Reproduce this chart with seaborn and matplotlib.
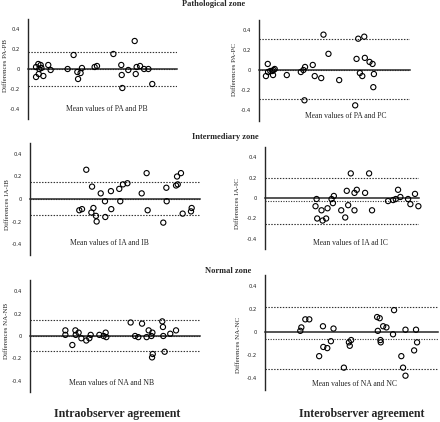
"""
Bland-Altman agreement plots for three zones (pathological / intermediary /
normal), intra- and interobserver. Values read off the reference figure.
"""

import matplotlib
matplotlib.use("Agg")
import matplotlib.pyplot as plt
import seaborn as sns

FIG_W, FIG_H = 440, 422
SERIF = "Liberation Serif"

# ---------------------------------------------------------------------------
# DATA — x = mean of the two readings (scaled 0..1), y = difference
# ---------------------------------------------------------------------------
PA_PB_MEAN = [0.054, 0.069, 0.085, 0.076, 0.09, 0.054, 0.072, 0.103, 0.136, 0.152,
              0.266, 0.306, 0.331, 0.336, 0.353, 0.362, 0.447, 0.463, 0.573, 0.626,
              0.629, 0.633, 0.673, 0.716, 0.723, 0.729, 0.752, 0.779, 0.808, 0.834]
PA_PB_DIFF = [0.02, 0.05, 0.04, 0.0, 0.01, -0.08, -0.05, -0.07, 0.04, -0.01,
              0.0, 0.14, -0.03, -0.10, -0.04, 0.01, 0.02, 0.03, 0.15, 0.04,
              -0.06, -0.19, -0.01, 0.28, -0.05, 0.02, 0.03, 0.0, 0.0, -0.15]
PA_PB_BIAS = 0.0
PA_PB_LIMITS = [0.17, -0.17]

PA_PC_MEAN = [0.046, 0.058, 0.060, 0.075, 0.088, 0.093, 0.097, 0.104, 0.184, 0.277,
              0.294, 0.305, 0.301, 0.356, 0.369, 0.412, 0.427, 0.460, 0.531, 0.637,
              0.646, 0.657, 0.668, 0.684, 0.697, 0.701, 0.732, 0.752, 0.761, 0.757]
PA_PC_DIFF = [-0.06, 0.06, -0.02, -0.01, -0.01, -0.05, 0.0, 0.01, -0.05, -0.02,
              0.0, 0.03, -0.30, 0.05, -0.06, -0.08, 0.35, 0.16, -0.10, -0.35,
              0.11, 0.31, -0.03, -0.06, 0.33, 0.12, 0.08, 0.06, -0.04, -0.17]
PA_PC_BIAS = 0.0
PA_PC_LIMITS = [0.31, -0.29]

IA_IB_MEAN = [0.290, 0.306, 0.331, 0.365, 0.361, 0.373, 0.388, 0.392, 0.416, 0.441,
              0.443, 0.476, 0.478, 0.525, 0.531, 0.547, 0.573, 0.657, 0.686, 0.692,
              0.784, 0.802, 0.804, 0.859, 0.865, 0.869, 0.888, 0.898, 0.947, 0.951]
IA_IB_DIFF = [-0.10, -0.09, 0.26, 0.11, -0.12, -0.08, -0.15, -0.20, 0.05, -0.02,
              -0.16, 0.07, -0.09, 0.09, -0.02, 0.13, 0.14, 0.05, 0.23, -0.10,
              -0.21, 0.10, -0.02, 0.12, 0.20, 0.13, 0.23, -0.13, -0.11, -0.08]
IA_IB_BIAS = 0.0
IA_IB_LIMITS = [0.15, -0.14]

IA_IC_MEAN = [0.328, 0.335, 0.339, 0.367, 0.374, 0.397, 0.406, 0.432, 0.441, 0.447,
              0.495, 0.521, 0.531, 0.540, 0.557, 0.581, 0.581, 0.596, 0.650, 0.676,
              0.695, 0.799, 0.832, 0.849, 0.864, 0.879, 0.929, 0.944, 0.974, 0.996]
IA_IC_DIFF = [-0.08, -0.01, -0.20, -0.12, -0.22, -0.20, -0.10, -0.01, -0.05, 0.02,
              -0.12, -0.19, 0.07, -0.07, 0.24, 0.05, -0.12, 0.08, 0.05, 0.24,
              -0.12, -0.03, -0.02, -0.01, 0.08, 0.01, -0.01, -0.06, 0.04, -0.08]
IA_IC_BIAS = -0.026
IA_IC_LIMITS = [0.195, -0.25]

NA_NB_MEAN = [0.208, 0.208, 0.249, 0.267, 0.269, 0.286, 0.302, 0.331, 0.349, 0.357,
              0.408, 0.433, 0.445, 0.449, 0.592, 0.618, 0.637, 0.659, 0.686, 0.698,
              0.714, 0.720, 0.722, 0.718, 0.778, 0.782, 0.784, 0.792, 0.825, 0.859]
NA_NB_DIFF = [0.05, 0.01, -0.08, 0.05, 0.01, 0.03, -0.02, -0.04, -0.02, 0.01,
              0.01, 0.0, 0.03, -0.01, 0.12, 0.0, -0.01, 0.11, -0.01, 0.05,
              0.0, 0.03, -0.16, -0.19, 0.13, 0.08, 0.0, -0.14, 0.02, 0.05]
NA_NB_BIAS = 0.0
NA_NB_LIMITS = [0.145, -0.136]

NA_NC_MEAN = [0.204, 0.210, 0.233, 0.256, 0.313, 0.335, 0.337, 0.360, 0.381, 0.396,
              0.456, 0.485, 0.490, 0.498, 0.648, 0.652, 0.663, 0.667, 0.669, 0.683,
              0.702, 0.740, 0.746, 0.788, 0.798, 0.812, 0.812, 0.862, 0.873, 0.879]
NA_NC_DIFF = [0.01, 0.04, 0.11, 0.11, -0.21, 0.05, -0.13, -0.14, -0.08, 0.03,
              -0.31, -0.09, -0.12, -0.07, 0.13, 0.01, 0.12, -0.07, -0.09, 0.05,
              0.04, -0.02, 0.19, -0.21, -0.31, -0.38, 0.02, -0.16, 0.02, -0.09]
NA_NC_BIAS = -0.058
NA_NC_LIMITS = [0.22, -0.325]

Y_TICKS = [-0.4, -0.2, 0, 0.2, 0.4]
Y_TICK_LABELS = ["-0.4", "-0.2", "0", "0.2", "0.4"]

ZONE_TITLES = ["Pathological zone", "Intermediary zone", "Normal zone"]
COLUMN_TITLES = ["Intraobserver agreement", "Interobserver agreement"]

# ---------------------------------------------------------------------------
# LAYOUT (pixels): axes box (left, top, right, bottom), ylabel right edge /
# centre, xlabel centre
# ---------------------------------------------------------------------------
PANELS = [
    dict(mean=PA_PB_MEAN, diff=PA_PB_DIFF, bias=PA_PB_BIAS, limits=PA_PB_LIMITS,
         ylabel="Differences PA-PB", xlabel="Mean values of PA and PB",
         box=(28, 19, 177, 119), ylab_at=(8, 66), xlab_at=(107, 109)),
    dict(mean=PA_PC_MEAN, diff=PA_PC_DIFF, bias=PA_PC_BIAS, limits=PA_PC_LIMITS,
         ylabel="Differences PA-PC", xlabel="Mean values of PA and PC",
         box=(259, 19.5, 410, 120.5), ylab_at=(237, 70), xlab_at=(346, 116)),
    dict(mean=IA_IB_MEAN, diff=IA_IB_DIFF, bias=IA_IB_BIAS, limits=IA_IB_LIMITS,
         ylabel="Differences IA-IB", xlabel="Mean values of IA and IB",
         box=(30, 142.75, 200, 255.25), ylab_at=(10, 205), xlab_at=(109, 243)),
    dict(mean=IA_IC_MEAN, diff=IA_IC_DIFF, bias=IA_IC_BIAS, limits=IA_IC_LIMITS,
         ylabel="Differences IA-IC", xlabel="Mean values of IA ad IC",
         box=(265, 146.75, 419, 249.25), ylab_at=(240, 204), xlab_at=(350, 243)),
    dict(mean=NA_NB_MEAN, diff=NA_NB_DIFF, bias=NA_NB_BIAS, limits=NA_NB_LIMITS,
         ylabel="Differences NA-NB", xlabel="Mean values of NA and NB",
         box=(30, 279.75, 200, 392.25), ylab_at=(9, 331), xlab_at=(112, 383)),
    dict(mean=NA_NC_MEAN, diff=NA_NC_DIFF, bias=NA_NC_BIAS, limits=NA_NC_LIMITS,
         ylabel="Differences NA-NC", xlabel="Mean values of NA and NC",
         box=(265, 274.5, 438, 389.5), ylab_at=(241, 345), xlab_at=(355, 384)),
]
ZONE_TITLE_AT = [(214, 4), (225, 137), (228, 271)]
COLUMN_TITLE_AT = [(117, 414), (362, 414)]

sns.set_style("white")


def px_to_fig(x, y):
    return x / FIG_W, 1 - y / FIG_H


def draw_panel(fig, p):
    left, top, right, bottom = p["box"]
    ax = fig.add_axes([left / FIG_W, 1 - bottom / FIG_H,
                       (right - left) / FIG_W, (bottom - top) / FIG_H])
    ax.set_xlim(0, 1.0)
    ax.set_ylim(-0.5, 0.5)

    for lim in p["limits"]:
        ax.axhline(lim, color="#333333", linestyle=(0, (1.3, 1.3)), linewidth=0.8)
    ax.axhline(p["bias"], color="#333333", linestyle=(0, (1.0, 1.3)), linewidth=0.8)

    sns.scatterplot(x=p["mean"], y=p["diff"], ax=ax, marker="o", s=14,
                    facecolor="none", edgecolor="black", linewidth=0.8,
                    zorder=3, clip_on=False)

    # zero line acts as the x axis
    ax.spines["top"].set_visible(False)
    ax.spines["right"].set_visible(False)
    ax.spines["bottom"].set_position(("data", 0))
    ax.spines["bottom"].set_linewidth(1.1)
    ax.spines["left"].set_linewidth(1.0)
    ax.set_xticks([1.0])
    ax.set_xticklabels([])
    ax.tick_params(axis="x", direction="inout", length=5, width=0.8)
    ax.set_yticks(Y_TICKS)
    ax.set_yticklabels(Y_TICK_LABELS)
    ax.tick_params(axis="y", direction="out", length=2, width=0.6,
                   labelsize=3.8, pad=4, labelcolor="#222222")

    # ylabel coords give the right edge of the rotated text
    ax.set_ylabel(p["ylabel"], family=SERIF, fontsize=5)
    lx, ly = p["ylab_at"]
    ax.yaxis.set_label_coords((lx - left) / (right - left),
                              (bottom - ly) / (bottom - top))

    tx, ty = p["xlab_at"]
    fig.text(*px_to_fig(tx, ty), p["xlabel"], family=SERIF, fontsize=5.5,
             ha="center", va="center")
    return ax


def main():
    fig = plt.figure(figsize=(FIG_W / 100, FIG_H / 100), dpi=100)

    for p in PANELS:
        draw_panel(fig, p)

    for title, (x, y) in zip(ZONE_TITLES, ZONE_TITLE_AT):
        fig.text(*px_to_fig(x, y), title, family=SERIF, fontsize=6,
                 fontweight="bold", ha="center", va="center")
    for title, (x, y) in zip(COLUMN_TITLES, COLUMN_TITLE_AT):
        fig.text(*px_to_fig(x, y), title, family=SERIF, fontsize=8.6,
                 fontweight="bold", ha="center", va="center")

    fig.savefig("out.png", dpi=100)
    plt.close(fig)


if __name__ == "__main__":
    main()
